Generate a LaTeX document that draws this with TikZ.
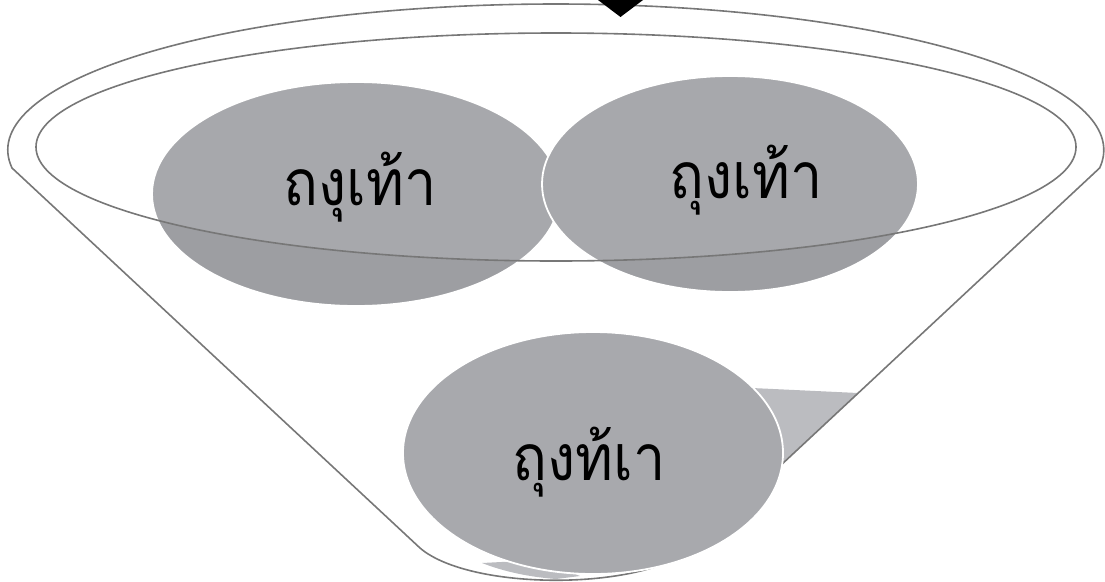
\documentclass[tikz,border=0pt]{standalone}
\usepackage{fontspec}
\newfontfamily\thaifont[Script=Thai,FakeStretch=0.9]{Loma}
\definecolor{ovalgray}{HTML}{9D9EA2}
\definecolor{ovallight}{HTML}{A8A9AD}
\definecolor{wedgegray}{HTML}{BBBCC0}
\definecolor{funnelgray}{HTML}{777777}
\begin{document}
\begin{tikzpicture}[x=1pt,y=-1pt,
  funnelline/.style={draw=funnelgray,line width=1.6pt},
  oval/.style={fill=ovalgray,draw=white,line width=1.8pt},
  thailabel/.style={font=\thaifont\fontsize{64}{76}\selectfont,text=black,anchor=base,inner sep=0pt}]
\useasboundingbox (0,0) rectangle (1105,581);
% top ovals
\path[oval] (356,194) ellipse[x radius=204pt, y radius=112pt];
\path[oval] (730,184) ellipse[x radius=188pt, y radius=108pt];
% funnel rim (inner ellipse)
\fill[white, fill opacity=0.11] (556,147) ellipse[x radius=520pt, y radius=114pt];
\draw[funnelline] (556,147) ellipse[x radius=520pt, y radius=114pt];
% light wedge pieces
\fill[wedgegray] (752,388) -- (858,393) -- (784,462) -- (752,462) -- cycle;
\fill[wedgegray] (482,563) .. controls (505,572) and (530,577) .. (556,579) -- (580,576) -- (540,560) -- cycle;
% outer funnel
\draw[funnelline] (12,168) arc[start angle=187.08, end angle=-7.08, x radius=548pt, y radius=146pt]
  -- (692,548) .. controls (642,591) and (470,591) .. (420,548) -- cycle;
% bottom oval
\path[oval, fill=ovallight] (593,453) ellipse[x radius=190pt, y radius=121pt];
% arrow tip at top
\coordinate (tipL) at (598,0);
\coordinate (tipR) at (643,0);
\coordinate (tipB) at (620.5,17);
\fill[black] (tipL) -- (tipR) -- (tipB) -- cycle;
% labels
\node[thailabel] (t1) at (360,205) {ถงุเท้า};
\node[thailabel] (t2) at (746,198) {ถุงเท้า};
\node[thailabel] (t3) at (589,480) {ถุงท้เา};
\end{tikzpicture}
\end{document}
